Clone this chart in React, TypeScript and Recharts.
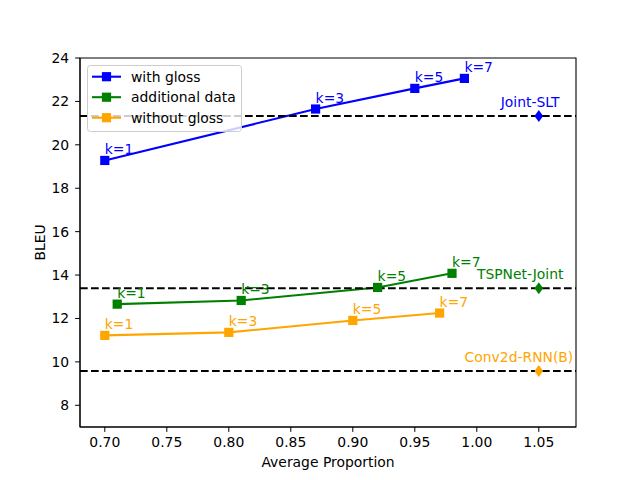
import React from "react";
import {
  ComposedChart,
  Line,
  Scatter,
  XAxis,
  YAxis,
  ReferenceLine,
  ReferenceArea,
  LabelList,
} from "recharts";

// values
const kLabels = ["k=1", "k=3", "k=5", "k=7"];
const glossX = [0.7, 0.87, 0.95, 0.99];
const glossBleu = [19.28, 21.65, 22.6, 23.06];
const extraX = [0.71, 0.81, 0.92, 0.98];
const extraBleu = [12.66, 12.83, 13.43, 14.08];
const noGlossX = [0.7, 0.8, 0.9, 0.97];
const noGlossBleu = [11.22, 11.36, 11.91, 12.25];

const baselineNames = ["Joint-SLT", "TSPNet-Joint", "Conv2d-RNN(B)"];
const baselineBleu = [21.33, 13.39, 9.58];
const baselineColors = ["#0000ff", "#008000", "#ffa500"];
const baselineX = 1.05;
const baselineLabelX = [1.043, 1.035, 1.034];

const xTicks = [0.7, 0.75, 0.8, 0.85, 0.9, 0.95, 1.0, 1.05];
const yTicks = [8, 10, 12, 14, 16, 18, 20, 22, 24];

const FONT = "'DejaVu Sans', sans-serif";
const FS = 13.9;

const series = [
  { name: "with gloss", color: "#0000ff", xs: glossX, ys: glossBleu },
  { name: "additional data", color: "#008000", xs: extraX, ys: extraBleu },
  { name: "without gloss", color: "#ffa500", xs: noGlossX, ys: noGlossBleu },
];

const toRows = (xs: number[], ys: number[]) =>
  xs.map((x, i) => ({ x, y: ys[i], k: kLabels[i] }));

const diamonds = baselineBleu.map((y, i) => ({ x: baselineX, y, color: baselineColors[i] }));
const baselineText = baselineBleu.map((y, i) => ({
  x: baselineLabelX[i],
  y: y + 0.42,
  name: baselineNames[i],
  color: baselineColors[i],
}));

const square = (color: string) => (props: any) => {
  const { cx, cy, index } = props;
  if (cx == null || cy == null) return <g key={index} />;
  return <rect key={index} x={cx - 4.6} y={cy - 4.6} width={9.2} height={9.2} fill={color} />;
};

const kLabel = (color: string) => (props: any) => {
  const { x, y, value, index } = props;
  return (
    <text key={index} x={x} y={y - 6.5} fill={color} fontSize={FS} fontFamily={FONT} textAnchor="start">
      {value}
    </text>
  );
};

const YTitle = (props: any) => {
  const vb = props.viewBox || { x: 0, y: 58, width: 80, height: 369 };
  const cx = 45;
  const cy = vb.y + vb.height / 2;
  return (
    <text
      x={cx}
      y={cy}
      transform={`rotate(-90 ${cx} ${cy})`}
      textAnchor="middle"
      fontSize={FS}
      fontFamily={FONT}
      fill="#000"
    >
      BLEU
    </text>
  );
};

const Legend = () => (
  <svg
    width={158}
    height={70}
    style={{ position: "absolute", left: 86, top: 64, overflow: "visible" }}
  >
    <rect x={1.5} y={1.5} width={154} height={66} rx={3} fill="#fff" fillOpacity={0.8} stroke="#cccccc" />
    {series.map((s, i) => {
      const cy = 12.7 + i * 20.5;
      return (
        <g key={s.name}>
          <line x1={6} x2={35} y1={cy} y2={cy} stroke={s.color} strokeWidth={2.1} />
          <rect x={20.5 - 4.6} y={cy - 4.6} width={9.2} height={9.2} fill={s.color} />
          <text x={45} y={cy + 5} fontSize={FS} fontFamily={FONT} fill="#000">
            {s.name}
          </text>
        </g>
      );
    })}
  </svg>
);

export default function App() {
  return (
    <div style={{ position: "absolute", left: 0, top: 0, width: 640, height: 480, background: "#fff" }}>
      <ComposedChart width={640} height={480} margin={{ top: 58, right: 64, bottom: 0, left: 0 }}>
        <XAxis
          type="number"
          dataKey="x"
          domain={[0.68, 1.08]}
          ticks={xTicks}
          tickFormatter={(v: number) => v.toFixed(2)}
          height={53}
          tickSize={4.9}
          tickMargin={5}
          allowDataOverflow
          stroke="#000"
          tick={{ fill: "#000", fontSize: FS, fontFamily: FONT }}
          label={{
            value: "Average Proportion",
            position: "insideBottom",
            offset: 13,
            fill: "#000",
            fontSize: FS,
            fontFamily: FONT,
          }}
        />
        <YAxis
          type="number"
          dataKey="y"
          domain={[7, 24]}
          ticks={yTicks}
          width={80}
          tickSize={4.9}
          tickMargin={6}
          allowDataOverflow
          stroke="#000"
          tick={{ fill: "#000", fontSize: FS, fontFamily: FONT }}
          label={<YTitle />}
        />
        <ReferenceArea x1={0.68} x2={1.08} y1={7} y2={24} fill="none" stroke="#000" strokeWidth={1.1} />
        {series.map((s) => (
          <Line
            key={s.name}
            name={s.name}
            data={toRows(s.xs, s.ys)}
            dataKey="y"
            stroke={s.color}
            strokeWidth={2.1}
            dot={square(s.color)}
            activeDot={false}
            isAnimationActive={false}
          >
            <LabelList dataKey="k" content={kLabel(s.color)} />
          </Line>
        ))}
        {baselineBleu.map((v) => (
          <ReferenceLine key={v} y={v} stroke="#000" strokeWidth={2.1} strokeDasharray="7.7 3.3" />
        ))}
        <Scatter
          data={diamonds}
          isAnimationActive={false}
          shape={(p: any) => (
            <polygon
              points={`${p.cx},${p.cy - 6} ${p.cx + 4.3},${p.cy} ${p.cx},${p.cy + 6} ${p.cx - 4.3},${p.cy}`}
              fill={p.payload.color}
            />
          )}
        />
        <Scatter
          data={baselineText}
          isAnimationActive={false}
          shape={(p: any) => (
            <text x={p.cx} y={p.cy} textAnchor="middle" fill={p.payload.color} fontSize={FS} fontFamily={FONT}>
              {p.payload.name}
            </text>
          )}
        />
      </ComposedChart>
      <Legend />
    </div>
  );
}
